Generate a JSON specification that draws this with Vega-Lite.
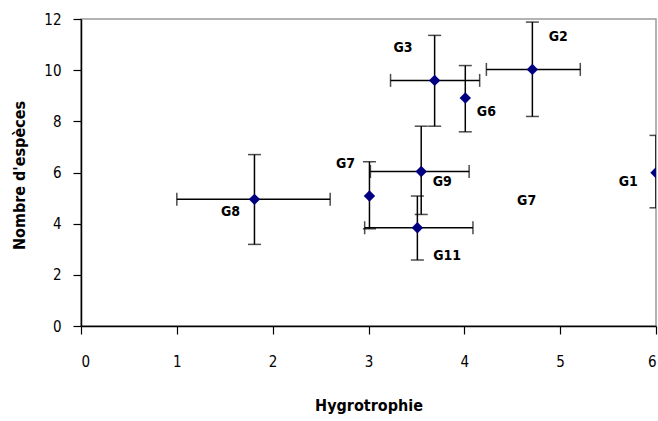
{
  "$schema": "https://vega.github.io/schema/vega-lite/v6.json",
  "autosize": "none",
  "width": 575,
  "height": 307,
  "padding": {"left": 81, "top": 19, "right": 2, "bottom": 95},
  "background": "white",
  "config": {
    "view": {"stroke": "#9a9a9a", "strokeWidth": 1.5},
    "font": "DejaVu Sans Condensed, Liberation Sans, sans-serif",
    "axis": {
      "grid": false,
      "domainColor": "black",
      "domainWidth": 1.5,
      "tickColor": "black",
      "tickWidth": 1.2,
      "tickSize": 8,
      "labelFont": "DejaVu Sans Condensed, Liberation Sans, sans-serif",
      "labelFontSize": 15,
      "labelColor": "black",
      "titleFont": "DejaVu Sans Condensed, Liberation Sans, sans-serif",
      "titleFontSize": 16,
      "titleFontWeight": "bold",
      "titleColor": "black"
    }
  },
  "data": {
    "values": [
      {"name": "G8", "hyg": 1.81, "sp": 4.95, "xlo": 1.0, "xhi": 2.6, "ylo": 3.19, "yhi": 6.7, "lx": 1.56, "ly": 4.44},
      {"name": "G3", "hyg": 3.69, "sp": 9.6, "xlo": 3.23, "xhi": 4.16, "ylo": 7.81, "yhi": 11.36, "lx": 3.36, "ly": 10.85},
      {"name": "G6", "hyg": 4.01, "sp": 8.91, "xlo": null, "xhi": null, "ylo": 7.59, "yhi": 10.18, "lx": 4.23, "ly": 8.35},
      {"name": "G2", "hyg": 4.71, "sp": 10.03, "xlo": 4.23, "xhi": 5.21, "ylo": 8.19, "yhi": 11.88, "lx": 4.98, "ly": 11.28},
      {"name": "G9", "hyg": 3.55, "sp": 6.04, "xlo": 3.02, "xhi": 4.05, "ylo": 4.36, "yhi": 7.81, "lx": 3.77, "ly": 5.61},
      {"name": "G11", "hyg": 3.51, "sp": 3.84, "xlo": 2.96, "xhi": 4.09, "ylo": 2.58, "yhi": 5.08, "lx": 3.82, "ly": 2.72},
      {"name": "G7", "hyg": 3.01, "sp": 5.08, "xlo": null, "xhi": null, "ylo": 3.8, "yhi": 6.42, "lx": 2.76, "ly": 6.32},
      {"name": "G1", "hyg": 6.0, "sp": 5.99, "xlo": null, "xhi": null, "ylo": 4.62, "yhi": 7.45, "lx": 5.71, "ly": 5.61}
    ]
  },
  "layer": [
    {
      "mark": {"type": "rule", "color": "black", "strokeWidth": 1.5, "clip": true},
      "encoding": {
        "x": {"field": "hyg", "type": "quantitative", "scale": {"domain": [0, 6]},
          "axis": {"values": [0, 1, 2, 3, 4, 5, 6], "format": "d", "labelPadding": 20, "title": "Hygrotrophie", "titleY": 79, "titleBaseline": "middle"}},
        "y": {"field": "ylo", "type": "quantitative", "scale": {"domain": [0, 12]},
          "axis": {"values": [0, 2, 4, 6, 8, 10, 12], "format": "d", "labelPadding": 12, "title": "Nombre d'espèces", "titleX": -62, "titleY": 156, "titleAlign": "center", "titleBaseline": "middle", "titleAngle": -90}},
        "y2": {"field": "yhi"}
      }
    },
    {
      "transform": [{"filter": "datum.xlo != null"}],
      "mark": {"type": "rule", "color": "black", "strokeWidth": 1.5, "clip": true},
      "encoding": {
        "x": {"field": "xlo", "type": "quantitative"},
        "x2": {"field": "xhi"},
        "y": {"field": "sp", "type": "quantitative"}
      }
    },
    {
      "mark": {"type": "tick", "orient": "horizontal", "color": "black", "size": 13, "thickness": 1.5, "clip": true},
      "encoding": {
        "x": {"field": "hyg", "type": "quantitative"},
        "y": {"field": "ylo", "type": "quantitative"}
      }
    },
    {
      "mark": {"type": "tick", "orient": "horizontal", "color": "black", "size": 13, "thickness": 1.5, "clip": true},
      "encoding": {
        "x": {"field": "hyg", "type": "quantitative"},
        "y": {"field": "yhi", "type": "quantitative"}
      }
    },
    {
      "transform": [{"filter": "datum.xlo != null"}],
      "mark": {"type": "tick", "orient": "vertical", "color": "black", "size": 13, "thickness": 1.5, "clip": true},
      "encoding": {
        "x": {"field": "xlo", "type": "quantitative"},
        "y": {"field": "sp", "type": "quantitative"}
      }
    },
    {
      "transform": [{"filter": "datum.xlo != null"}],
      "mark": {"type": "tick", "orient": "vertical", "color": "black", "size": 13, "thickness": 1.5, "clip": true},
      "encoding": {
        "x": {"field": "xhi", "type": "quantitative"},
        "y": {"field": "sp", "type": "quantitative"}
      }
    },
    {
      "mark": {"type": "point", "shape": "diamond", "filled": true, "color": "#000080", "size": 130, "opacity": 1, "clip": true},
      "encoding": {
        "x": {"field": "hyg", "type": "quantitative"},
        "y": {"field": "sp", "type": "quantitative"}
      }
    },
    {
      "mark": {"type": "text", "font": "DejaVu Sans Condensed, Liberation Sans, sans-serif", "fontSize": 14, "fontWeight": "bold", "color": "black", "align": "center", "baseline": "middle"},
      "encoding": {
        "x": {"field": "lx", "type": "quantitative"},
        "y": {"field": "ly", "type": "quantitative"},
        "text": {"field": "name"}
      }
    },
    {
      "data": {"values": [{"name": "G7", "lx": 4.65, "ly": 4.87}]},
      "mark": {"type": "text", "font": "DejaVu Sans Condensed, Liberation Sans, sans-serif", "fontSize": 14, "fontWeight": "bold", "color": "black", "align": "center", "baseline": "middle"},
      "encoding": {
        "x": {"field": "lx", "type": "quantitative"},
        "y": {"field": "ly", "type": "quantitative"},
        "text": {"field": "name"}
      }
    }
  ]
}
